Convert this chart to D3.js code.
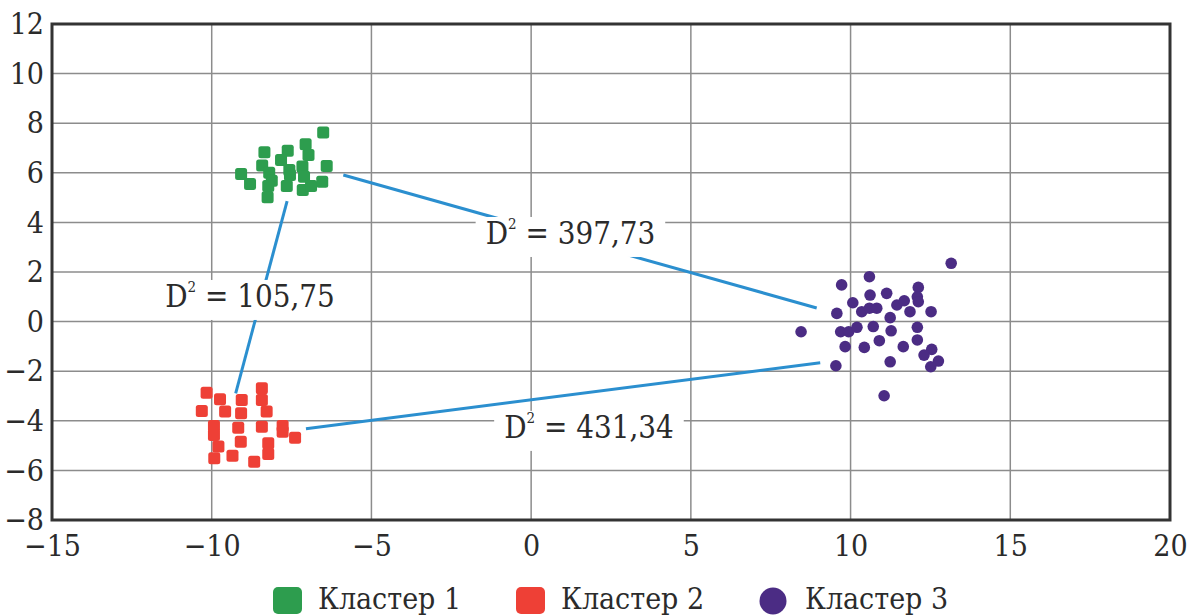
<!DOCTYPE html>
<html><head><meta charset="utf-8">
<script src="https://cdn.jsdelivr.net/npm/d3@7"></script>
<style>
html,body{margin:0;padding:0;background:#fff;}
svg{display:block;}
svg text{font-family:"DejaVu Serif Condensed","DejaVu Serif",serif;font-stretch:condensed;}
</style></head>
<body><svg id="chart" width="1188" height="616"></svg>
<script>
const xTicks = [-15,-10,-5,0,5,10,15,20];
const yTicks = [-8,-6,-4,-2,0,2,4,6,8,10,12];
const seriesNames = ["Кластер 1","Кластер 2","Кластер 3"];

const cluster1 = [
  [-6.51,7.63],[-8.35,6.83],[-7.62,6.89],[-7.06,7.15],[-6.97,6.72],[-7.83,6.52],
  [-8.42,6.29],[-9.08,5.95],[-8.80,5.55],[-8.20,6.00],[-8.12,5.68],[-8.23,5.47],
  [-8.25,5.01],[-7.57,6.11],[-7.55,5.91],[-7.65,5.47],[-7.16,6.25],[-7.11,5.84],
  [-7.15,5.31],[-6.89,5.47],[-6.54,5.64],[-6.40,6.27]
];
const cluster2 = [
  [-10.16,-2.87],[-10.31,-3.60],[-9.74,-3.13],[-9.58,-3.63],[-9.06,-3.16],[-9.08,-3.70],
  [-8.43,-2.69],[-8.43,-3.16],[-8.28,-3.63],[-9.93,-4.21],[-9.93,-4.57],[-9.79,-5.04],
  [-9.92,-5.51],[-9.17,-4.28],[-9.09,-4.84],[-9.35,-5.41],[-8.67,-5.65],[-8.43,-4.24],
  [-8.23,-4.91],[-8.23,-5.34],[-7.78,-4.21],[-7.78,-4.44],[-7.39,-4.68]
];
const cluster3 = [
  [13.15,2.35],[10.59,1.81],[9.72,1.48],[10.61,1.07],[11.13,1.14],[10.07,0.76],
  [9.57,0.33],[10.35,0.40],[10.59,0.54],[10.82,0.54],[11.45,0.67],[11.68,0.84],
  [12.12,1.38],[12.09,1.00],[12.12,0.80],[11.86,0.40],[12.52,0.40],[11.24,0.16],
  [8.45,-0.41],[9.69,-0.41],[9.94,-0.41],[10.20,-0.23],[10.71,-0.20],[11.27,-0.37],
  [12.09,-0.23],[10.90,-0.77],[12.09,-0.74],[9.83,-1.01],[10.43,-1.04],[11.65,-1.01],
  [12.54,-1.12],[12.30,-1.35],[12.75,-1.59],[12.51,-1.82],[11.24,-1.62],[9.54,-1.78],
  [11.05,-2.99]
];
// distance connectors: [x1,y1,x2,y2]
const links = [
  [-7.64,4.86,-9.25,-2.89],
  [-5.88,5.91,8.94,0.55],
  [-7.05,-4.32,9.05,-1.66]
];
const distLabels = ["105,75","397,73","431,34"];
const labelPos = [[-8.80,0.59],[1.23,3.13],[1.81,-4.69]];

const W=1188,H=616;
const m={l:52,t:24,r:18,b:96};
const svg=d3.select("#chart");
const x=d3.scaleLinear().domain([-15,20]).range([m.l,W-m.r]);
const y=d3.scaleLinear().domain([-8,12]).range([H-m.b,m.t]);
const fmt=d3.format("");
const textCol="#2b2b2b";

// grid
const g=svg.append("g");
g.selectAll("line.vx").data(xTicks.slice(1,-1)).join("line")
  .attr("x1",d=>x(d)).attr("x2",d=>x(d)).attr("y1",y(12)).attr("y2",y(-8))
  .attr("stroke","#8c8c8c").attr("stroke-width",1.5);
g.selectAll("line.hy").data(yTicks.slice(1,-1)).join("line")
  .attr("y1",d=>y(d)).attr("y2",d=>y(d)).attr("x1",x(-15)).attr("x2",x(20))
  .attr("stroke","#8c8c8c").attr("stroke-width",1.5);

// axes
const xa=svg.append("g").attr("transform",`translate(0,${y(-8)})`)
  .call(d3.axisBottom(x).tickValues(xTicks).tickSize(0).tickPadding(15).tickFormat(fmt));
const ya=svg.append("g").attr("transform",`translate(${x(-15)},0)`)
  .call(d3.axisLeft(y).tickValues(yTicks).tickSize(0).tickPadding(8).tickFormat(fmt));
[xa,ya].forEach(a=>{a.select(".domain").remove();
  a.attr("font-family",null).attr("font-size",null);
  a.selectAll("text").attr("font-size",30).attr("fill",textCol);});
xa.selectAll("text").attr("dy","0.71em");

// frame
svg.append("rect").attr("x",x(-15)).attr("y",y(12))
  .attr("width",x(20)-x(-15)).attr("height",y(-8)-y(12))
  .attr("fill","none").attr("stroke","#333").attr("stroke-width",3);

// connector lines
svg.append("g").selectAll("line").data(links).join("line")
  .attr("x1",d=>x(d[0])).attr("y1",d=>y(d[1])).attr("x2",d=>x(d[2])).attr("y2",d=>y(d[3]))
  .attr("stroke","#2b8fcf").attr("stroke-width",3);

// labels with white boxes
const lg=svg.append("g");
distLabels.forEach((v,i)=>{
  const gg=lg.append("g");
  const r=gg.append("rect").attr("fill","#fff");
  const t=gg.append("text").attr("x",x(labelPos[i][0])).attr("y",y(labelPos[i][1]))
    .attr("text-anchor","middle").attr("font-size",31).attr("fill",textCol);
  t.append("tspan").text("D");
  t.append("tspan").attr("font-size",15).attr("dy",-15).text("2");
  t.append("tspan").attr("dy",15).text(" = "+v);
  const b=t.node().getBBox();
  r.attr("x",b.x-10).attr("y",b.y+2).attr("width",b.width+20).attr("height",b.height+4);
});

// points
const sq=12;
svg.append("g").selectAll("rect").data(cluster1).join("rect")
  .attr("x",d=>x(d[0])-sq/2).attr("y",d=>y(d[1])-sq/2).attr("width",sq).attr("height",sq)
  .attr("rx",2.5).attr("fill","#2d9d4e");
svg.append("g").selectAll("rect").data(cluster2).join("rect")
  .attr("x",d=>x(d[0])-sq/2).attr("y",d=>y(d[1])-sq/2).attr("width",sq).attr("height",sq)
  .attr("rx",2.5).attr("fill","#ee4036");
svg.append("g").selectAll("circle").data(cluster3).join("circle")
  .attr("cx",d=>x(d[0])).attr("cy",d=>y(d[1])).attr("r",5.8)
  .attr("fill","#4b2c84");

// legend
const leg=svg.append("g");
const legX=[273,516,760];
const colors=["#2d9d4e","#ee4036","#4b2c84"];
seriesNames.forEach((n,i)=>{
  if(i<2){
    leg.append("rect").attr("x",legX[i]).attr("y",587).attr("width",29).attr("height",27)
      .attr("rx",5).attr("fill",colors[i]);
  } else {
    leg.append("circle").attr("cx",legX[i]+13).attr("cy",601).attr("r",13.5).attr("fill",colors[i]);
  }
  leg.append("text").attr("x",legX[i]+45).attr("y",609).attr("font-size",30)
    .attr("fill",textCol).text(n);
});
</script></body></html>
